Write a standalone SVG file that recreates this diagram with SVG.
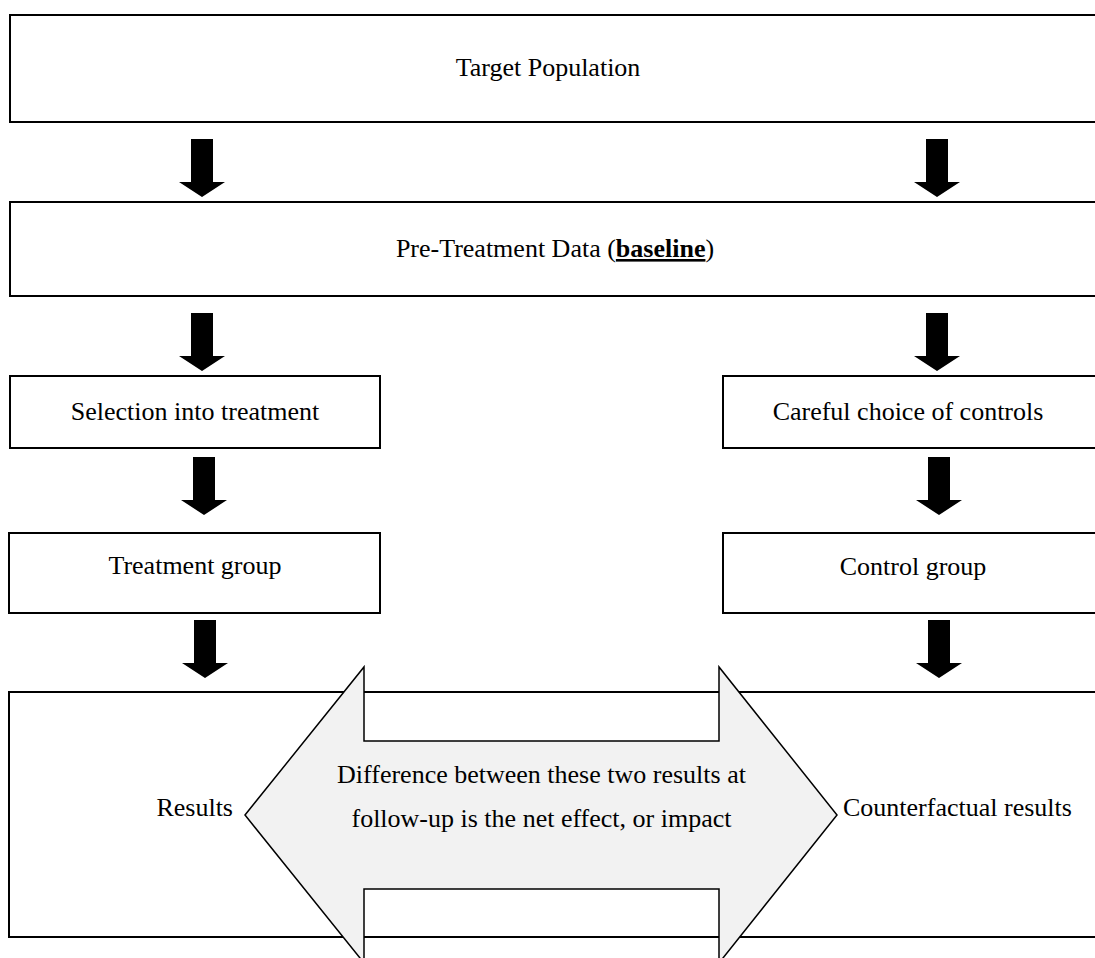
<svg xmlns="http://www.w3.org/2000/svg" width="1095" height="958" viewBox="0 0 1095 958">
<style>
.box{fill:#fff;stroke:#000;stroke-width:2}
.t{font-family:"Liberation Serif","Times New Roman",serif;font-size:26px;fill:#000}
.c{text-anchor:middle}
.arr{fill:#000}
.dbl{fill:#f2f2f2;stroke:#000;stroke-width:1.5;stroke-linejoin:miter}
</style>
<defs>
<path id="down" d="M-11,0 H11 V43 H23 L0,58 L-23,43 H-11 Z"/>
</defs>
<rect width="1095" height="958" fill="#fff"/>
<g id="n1"><rect class="box" x="10" y="15" width="1094" height="107"/><text class="t c" x="548" y="76">Target Population</text></g>
<g id="n2"><rect class="box" x="10" y="202" width="1094" height="94"/><text class="t c" x="555" y="257">Pre-Treatment Data (<tspan font-weight="bold" text-decoration="underline">baseline</tspan>)</text></g>
<g id="n3"><rect class="box" x="10" y="376" width="370" height="72"/><text class="t c" x="195" y="420">Selection into treatment</text></g>
<g id="n4"><rect class="box" x="723" y="376" width="381" height="72"/><text class="t c" x="908" y="420">Careful choice of controls</text></g>
<g id="n5"><rect class="box" x="9" y="533" width="371" height="80"/><text class="t c" x="195" y="574">Treatment group</text></g>
<g id="n6"><rect class="box" x="723" y="533" width="381" height="80"/><text class="t c" x="913" y="575">Control group</text></g>
<g id="n7"><rect class="box" x="9" y="692" width="1095" height="245"/><text class="t" x="233" y="816" text-anchor="end">Results</text><text class="t" x="843" y="816">Counterfactual results</text></g>
<g id="connectors">
<use href="#down" class="arr" x="202" y="139"/>
<use href="#down" class="arr" x="937" y="139"/>
<use href="#down" class="arr" x="202" y="313"/>
<use href="#down" class="arr" x="937" y="313"/>
<use href="#down" class="arr" x="204" y="457"/>
<use href="#down" class="arr" x="939" y="457"/>
<use href="#down" class="arr" x="205" y="620"/>
<use href="#down" class="arr" x="939" y="620"/>
</g>
<g id="impact">
<path class="dbl" d="M245,815 L364,667 L364,741 L719,741 L719,667 L837,815 L719,963 L719,889 L364,889 L364,963 Z"/>
<text class="t c" x="541.5" y="783">Difference between these two results at</text>
<text class="t c" x="541.5" y="827">follow-up is the net effect, or impact</text>
</g>
</svg>
